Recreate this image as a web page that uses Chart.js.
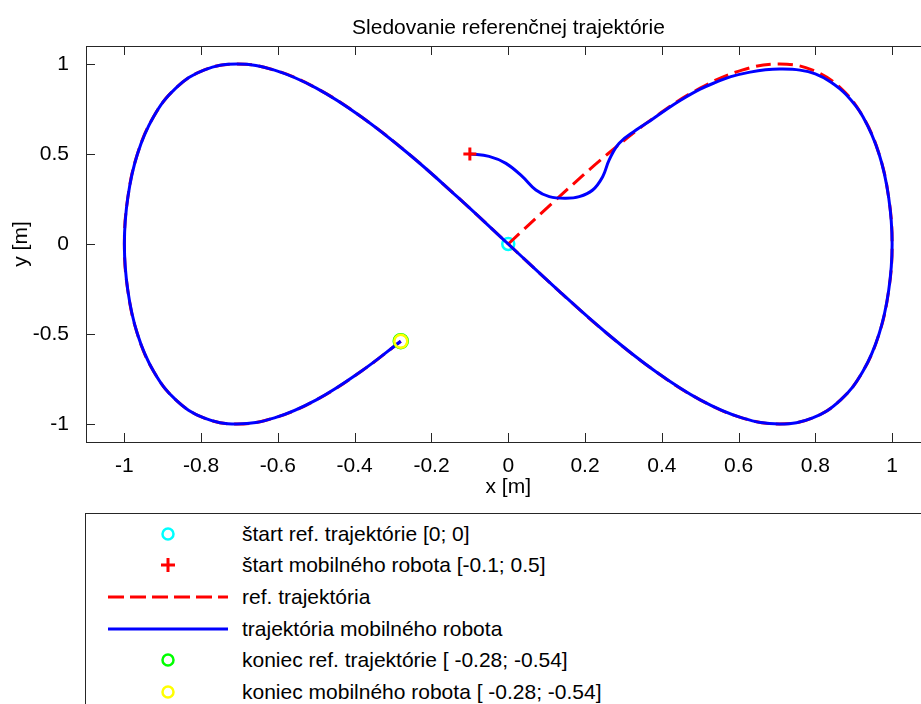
<!DOCTYPE html>
<html>
<head>
<meta charset="utf-8">
<script src="https://cdn.jsdelivr.net/npm/chart.js@4.4.1/dist/chart.umd.min.js"></script>
<style>
  body { margin: 0; width: 921px; height: 704px; overflow: hidden; background: #fff; font-family: "Liberation Sans", Arial, sans-serif; }
  #wrap { position: absolute; left: 0; top: 0; width: 940px; height: 505px; }
  #title { position: absolute; left: 86px; width: 845px; top: 14px; line-height: 25px; font-size: 21px; text-align: center; color: #000; }
  #legend { position: absolute; left: 85px; top: 513px; width: 900px; height: 220px; border: 1px solid #262626; box-sizing: border-box; padding-top: 4px; }
  .row { height: 31.6px; display: flex; align-items: center; font-size: 21px; color: #000; white-space: nowrap; }
  .row svg { flex: none; }
</style>
</head>
<body>
<div id="wrap"><canvas id="c" width="940" height="505"></canvas></div>
<div id="title">Sledovanie referenčnej trajektórie</div>
<div id="legend"></div>
<script>
const xTicks = [-1, -0.8, -0.6, -0.4, -0.2, 0, 0.2, 0.4, 0.6, 0.8, 1];
const yTicks = [-1, -0.5, 0, 0.5, 1];

// reference figure-eight
const refPath = [
  [0, 0], [0.131, 0.259], [0.259, 0.5], [0.383, 0.707], [0.5, 0.866], [0.609, 0.966], [0.707, 1],
  [0.793, 0.966], [0.866, 0.866], [0.924, 0.707], [0.966, 0.5], [0.991, 0.259], [1, 0],
  [0.991, -0.259], [0.966, -0.5], [0.924, -0.707], [0.866, -0.866], [0.793, -0.966], [0.707, -1],
  [0.609, -0.966], [0.5, -0.866], [0.383, -0.707], [0.259, -0.5], [0.131, -0.259], [0, 0],
  [-0.131, 0.259], [-0.259, 0.5], [-0.383, 0.707], [-0.5, 0.866], [-0.609, 0.966], [-0.707, 1],
  [-0.793, 0.966], [-0.866, 0.866], [-0.924, 0.707], [-0.966, 0.5], [-0.991, 0.259], [-1, 0],
  [-0.991, -0.259], [-0.966, -0.5], [-0.924, -0.707], [-0.866, -0.866], [-0.793, -0.966], [-0.707, -1],
  [-0.609, -0.966], [-0.5, -0.866], [-0.383, -0.707], [-0.28, -0.54]
];

// robot path: transient from the start point, then on the reference
const robotPath = [
  [-0.1, 0.5], [-0.05, 0.487], [-0.006, 0.448], [0.037, 0.374], [0.072, 0.3], [0.107, 0.263],
  [0.15, 0.254], [0.185, 0.263], [0.22, 0.3], [0.246, 0.374], [0.263, 0.467], [0.289, 0.56],
  [0.333, 0.633], [0.37, 0.685], [0.41, 0.745], [0.45, 0.8], [0.5, 0.86], [0.54, 0.898],
  [0.58, 0.93], [0.63, 0.955], [0.67, 0.968], [0.71, 0.972], [0.76, 0.966], [0.8, 0.945],
  [0.84, 0.9], [0.88, 0.83], [0.924, 0.707], [0.966, 0.5], [0.991, 0.259], [1, 0],
  [0.991, -0.259], [0.966, -0.5], [0.924, -0.707], [0.866, -0.866], [0.793, -0.966], [0.707, -1],
  [0.609, -0.966], [0.5, -0.866], [0.383, -0.707], [0.259, -0.5], [0.131, -0.259], [0, 0],
  [-0.131, 0.259], [-0.259, 0.5], [-0.383, 0.707], [-0.5, 0.866], [-0.609, 0.966], [-0.707, 1],
  [-0.793, 0.966], [-0.866, 0.866], [-0.924, 0.707], [-0.966, 0.5], [-0.991, 0.259], [-1, 0],
  [-0.991, -0.259], [-0.966, -0.5], [-0.924, -0.707], [-0.866, -0.866], [-0.793, -0.966], [-0.707, -1],
  [-0.609, -0.966], [-0.5, -0.866], [-0.383, -0.707], [-0.28, -0.54]
];

const refStart = [0, 0];
const robotStart = [-0.1, 0.5];
const refEnd = [-0.28, -0.54];
const robotEnd = [-0.28, -0.54];

const seriesLabels = [
  'štart ref. trajektórie [0; 0]',
  'štart mobilného robota [-0.1; 0.5]',
  'ref. trajektória',
  'trajektória mobilného robota',
  'koniec ref. trajektórie [ -0.28; -0.54]',
  'koniec mobilného robota [ -0.28; -0.54]'
];
const seriesColors = ['#00ffff', '#ff0000', '#ff0000', '#0000ff', '#00ff00', '#ffff00'];
const seriesKinds = ['circle', 'plus', 'dash', 'solid', 'circle', 'circle'];

const FONT = '"Liberation Sans", Arial, sans-serif';
const pts = arr => arr.map(p => ({ x: p[0], y: p[1] }));

// legend (MATLAB style box under the axes)
const icons = {
  circle: c => `<circle cx="82" cy="16" r="5.5" fill="none" stroke="${c}" stroke-width="2.5"/>`,
  plus: c => `<path d="M75 16H89M82 9V23" stroke="${c}" stroke-width="3"/>`,
  dash: c => `<line x1="22" y1="16" x2="142" y2="16" stroke="${c}" stroke-width="3" stroke-dasharray="16 6"/>`,
  solid: c => `<line x1="22" y1="16" x2="142" y2="16" stroke="${c}" stroke-width="3"/>`
};
document.getElementById('legend').innerHTML = seriesLabels.map((lab, i) =>
  `<div class="row"><svg width="156" height="32">${icons[seriesKinds[i]](seriesColors[i])}</svg><span>${lab}</span></div>`
).join('');

// box with inward ticks on all four sides
const boxTicks = {
  id: 'boxTicks',
  afterDraw(chart) {
    const { ctx, chartArea: a, scales: { x, y } } = chart;
    ctx.save();
    ctx.strokeStyle = '#262626';
    ctx.lineWidth = 1;
    ctx.strokeRect(a.left + 0.5, a.top + 0.5, a.right - a.left, a.bottom - a.top);
    ctx.beginPath();
    xTicks.forEach(v => {
      const px = Math.round(x.getPixelForValue(v)) + 0.5;
      ctx.moveTo(px, a.bottom); ctx.lineTo(px, a.bottom - 9);
      ctx.moveTo(px, a.top); ctx.lineTo(px, a.top + 9);
    });
    yTicks.forEach(v => {
      const py = Math.round(y.getPixelForValue(v)) + 0.5;
      ctx.moveTo(a.left, py); ctx.lineTo(a.left + 9, py);
      ctx.moveTo(a.right, py); ctx.lineTo(a.right - 9, py);
    });
    ctx.stroke();
    ctx.restore();
  }
};

new Chart(document.getElementById('c'), {
  type: 'scatter',
  data: {
    datasets: [
      {
        label: seriesLabels[5], data: pts([robotEnd]), order: 0,
        pointStyle: 'circle', pointRadius: 6.5, pointBorderWidth: 2.5,
        pointBorderColor: seriesColors[5], pointBackgroundColor: 'transparent'
      },
      {
        label: seriesLabels[4], data: pts([refEnd]), order: 1,
        pointStyle: 'circle', pointRadius: 7, pointBorderWidth: 2.5,
        pointBorderColor: seriesColors[4], pointBackgroundColor: 'transparent'
      },
      {
        label: seriesLabels[1], data: pts([robotStart]), order: 2,
        pointStyle: 'cross', pointRadius: 6.5, pointBorderWidth: 3,
        pointBorderColor: seriesColors[1]
      },
      {
        label: seriesLabels[3], data: pts(robotPath), order: 3,
        showLine: true, borderColor: seriesColors[3], borderWidth: 3,
        pointRadius: 0, tension: 0.4
      },
      {
        label: seriesLabels[2], data: pts(refPath), order: 4,
        showLine: true, borderColor: seriesColors[2], borderWidth: 3,
        borderDash: [15, 7], pointRadius: 0, tension: 0.4
      },
      {
        label: seriesLabels[0], data: pts([refStart]), order: 5,
        pointStyle: 'circle', pointRadius: 6, pointBorderWidth: 2.5,
        pointBorderColor: seriesColors[0], pointBackgroundColor: 'transparent'
      }
    ]
  },
  options: {
    responsive: false,
    animation: false,
    layout: { padding: { top: 46, right: 9, left: 0, bottom: 0 } },
    plugins: {
      legend: { display: false },
      title: { display: false },
      tooltip: { enabled: false }
    },
    scales: {
      x: {
        type: 'linear', min: -1.1, max: 1.1,
        afterBuildTicks: s => { s.ticks = xTicks.map(v => ({ value: v })); },
        afterFit: s => { s.height = 63; },
        grid: { display: false },
        border: { display: false },
        ticks: { color: '#000', font: { family: FONT, size: 21 }, padding: 4, maxRotation: 0, autoSkip: false, callback: v => String(v) },
        title: { display: true, text: 'x [m]', color: '#000', font: { family: FONT, size: 21 }, padding: { top: 0, bottom: 5 } }
      },
      y: {
        type: 'linear', min: -1.1, max: 1.1,
        afterBuildTicks: s => { s.ticks = yTicks.map(v => ({ value: v })); },
        afterFit: s => { s.width = 86; },
        grid: { display: false },
        border: { display: false },
        ticks: { color: '#000', font: { family: FONT, size: 21 }, padding: 9, autoSkip: false, callback: v => String(v) },
        title: { display: true, text: 'y [m]', color: '#000', font: { family: FONT, size: 21 }, padding: { top: 9, bottom: 0 } }
      }
    }
  },
  plugins: [boxTicks]
});
</script>
</body>
</html>
